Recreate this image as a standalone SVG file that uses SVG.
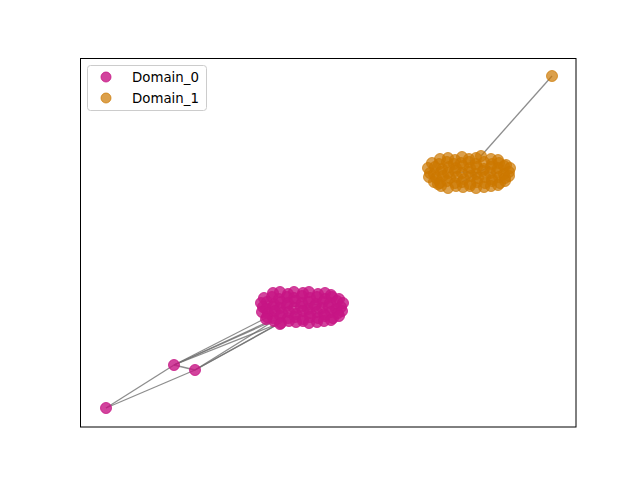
<svg xmlns="http://www.w3.org/2000/svg" xmlns:xlink="http://www.w3.org/1999/xlink" width="640" height="480" viewBox="0 0 640 480">
<style>
.d0{fill:#c71585;fill-opacity:0.8;stroke:#c71585;stroke-opacity:0.8;stroke-width:1}
.d1{fill:#cc7700;fill-opacity:0.7;stroke:#cc7700;stroke-opacity:0.7;stroke-width:1}
.e{stroke:#707070;stroke-opacity:0.8;stroke-width:1.3;fill:none}
.ei{stroke:#404040;stroke-opacity:0.6;stroke-width:1.2;fill:none}
.t{font-family:"DejaVu Sans",sans-serif;font-size:13.33px;fill:#000}
</style>
<rect x="0" y="0" width="640" height="480" fill="#fff"/>
<g id="connectors">
<line class="e" x1="174" y1="365" x2="266" y2="318"/>
<line class="e" x1="174" y1="365" x2="270" y2="321"/>
<line class="e" x1="174" y1="365" x2="275" y2="320"/>
<line class="e" x1="174" y1="365" x2="280" y2="323"/>
<line class="e" x1="195" y1="370" x2="272" y2="322"/>
<line class="e" x1="195" y1="370" x2="278" y2="324"/>
<line class="e" x1="195" y1="370" x2="284" y2="321"/>
<line class="e" x1="174" y1="365" x2="195" y2="370"/>
<line class="e" x1="106" y1="408" x2="174" y2="365"/>
<line class="e" x1="106" y1="408" x2="195" y2="370"/>
<line class="e" x1="552" y1="76" x2="481" y2="156"/>
<line class="ei" x1="290" y1="300" x2="310" y2="310"/>
<line class="ei" x1="300" y1="297" x2="318" y2="314"/>
<line class="ei" x1="280" y1="308" x2="330" y2="303"/>
<line class="ei" x1="295" y1="315" x2="322" y2="298"/>
<line class="ei" x1="455" y1="165" x2="480" y2="178"/>
<line class="ei" x1="462" y1="182" x2="490" y2="166"/>
<line class="ei" x1="448" y1="172" x2="497" y2="173"/>
<line class="ei" x1="470" y1="160" x2="476" y2="186"/>
</g>
<g id="domain0">
<g id="a1"><circle class="d0" cx="273" cy="293" r="5.5"/></g>
<g id="a2"><circle class="d0" cx="280" cy="292" r="5.5"/></g>
<g id="a3"><circle class="d0" cx="288" cy="294" r="5.5"/></g>
<g id="a4"><circle class="d0" cx="294" cy="292" r="5.5"/></g>
<g id="a5"><circle class="d0" cx="303" cy="293" r="5.5"/></g>
<g id="a6"><circle class="d0" cx="309" cy="292" r="5.5"/></g>
<g id="a7"><circle class="d0" cx="318" cy="294" r="5.5"/></g>
<g id="a8"><circle class="d0" cx="325" cy="293" r="5.5"/></g>
<g id="a9"><circle class="d0" cx="331" cy="295" r="5.5"/></g>
<g id="a10"><circle class="d0" cx="264" cy="298" r="5.5"/></g>
<g id="a11"><circle class="d0" cx="272" cy="297" r="5.5"/></g>
<g id="a12"><circle class="d0" cx="279" cy="299" r="5.5"/></g>
<g id="a13"><circle class="d0" cx="287" cy="297" r="5.5"/></g>
<g id="a14"><circle class="d0" cx="294" cy="298" r="5.5"/></g>
<g id="a15"><circle class="d0" cx="302" cy="296" r="5.5"/></g>
<g id="a16"><circle class="d0" cx="310" cy="298" r="5.5"/></g>
<g id="a17"><circle class="d0" cx="317" cy="297" r="5.5"/></g>
<g id="a18"><circle class="d0" cx="325" cy="299" r="5.5"/></g>
<g id="a19"><circle class="d0" cx="332" cy="297" r="5.5"/></g>
<g id="a20"><circle class="d0" cx="339" cy="299" r="5.5"/></g>
<g id="a21"><circle class="d0" cx="261" cy="303" r="5.5"/></g>
<g id="a22"><circle class="d0" cx="267" cy="302" r="5.5"/></g>
<g id="a23"><circle class="d0" cx="274" cy="304" r="5.5"/></g>
<g id="a24"><circle class="d0" cx="281" cy="302" r="5.5"/></g>
<g id="a25"><circle class="d0" cx="288" cy="303" r="5.5"/></g>
<g id="a26"><circle class="d0" cx="295" cy="301" r="5.5"/></g>
<g id="a27"><circle class="d0" cx="302" cy="303" r="5.5"/></g>
<g id="a28"><circle class="d0" cx="309" cy="302" r="5.5"/></g>
<g id="a29"><circle class="d0" cx="316" cy="304" r="5.5"/></g>
<g id="a30"><circle class="d0" cx="323" cy="302" r="5.5"/></g>
<g id="a31"><circle class="d0" cx="330" cy="303" r="5.5"/></g>
<g id="a32"><circle class="d0" cx="337" cy="301" r="5.5"/></g>
<g id="a33"><circle class="d0" cx="343" cy="303" r="5.5"/></g>
<g id="a34"><circle class="d0" cx="263" cy="307" r="5.5"/></g>
<g id="a35"><circle class="d0" cx="266" cy="309" r="5.5"/></g>
<g id="a36"><circle class="d0" cx="273" cy="307" r="5.5"/></g>
<g id="a37"><circle class="d0" cx="280" cy="308" r="5.5"/></g>
<g id="a38"><circle class="d0" cx="287" cy="306" r="5.5"/></g>
<g id="a39"><circle class="d0" cx="294" cy="308" r="5.5"/></g>
<g id="a40"><circle class="d0" cx="301" cy="307" r="5.5"/></g>
<g id="a41"><circle class="d0" cx="308" cy="309" r="5.5"/></g>
<g id="a42"><circle class="d0" cx="315" cy="306" r="5.5"/></g>
<g id="a43"><circle class="d0" cx="322" cy="308" r="5.5"/></g>
<g id="a44"><circle class="d0" cx="329" cy="307" r="5.5"/></g>
<g id="a45"><circle class="d0" cx="336" cy="309" r="5.5"/></g>
<g id="a46"><circle class="d0" cx="341" cy="307" r="5.5"/></g>
<g id="a47"><circle class="d0" cx="262" cy="312" r="5.5"/></g>
<g id="a48"><circle class="d0" cx="268" cy="313" r="5.5"/></g>
<g id="a49"><circle class="d0" cx="275" cy="311" r="5.5"/></g>
<g id="a50"><circle class="d0" cx="282" cy="313" r="5.5"/></g>
<g id="a51"><circle class="d0" cx="289" cy="312" r="5.5"/></g>
<g id="a52"><circle class="d0" cx="296" cy="314" r="5.5"/></g>
<g id="a53"><circle class="d0" cx="303" cy="311" r="5.5"/></g>
<g id="a54"><circle class="d0" cx="310" cy="313" r="5.5"/></g>
<g id="a55"><circle class="d0" cx="317" cy="312" r="5.5"/></g>
<g id="a56"><circle class="d0" cx="324" cy="314" r="5.5"/></g>
<g id="a57"><circle class="d0" cx="331" cy="312" r="5.5"/></g>
<g id="a58"><circle class="d0" cx="338" cy="313" r="5.5"/></g>
<g id="a59"><circle class="d0" cx="342" cy="311" r="5.5"/></g>
<g id="a60"><circle class="d0" cx="267" cy="317" r="5.5"/></g>
<g id="a61"><circle class="d0" cx="273" cy="318" r="5.5"/></g>
<g id="a62"><circle class="d0" cx="280" cy="316" r="5.5"/></g>
<g id="a63"><circle class="d0" cx="288" cy="318" r="5.5"/></g>
<g id="a64"><circle class="d0" cx="295" cy="317" r="5.5"/></g>
<g id="a65"><circle class="d0" cx="303" cy="319" r="5.5"/></g>
<g id="a66"><circle class="d0" cx="310" cy="317" r="5.5"/></g>
<g id="a67"><circle class="d0" cx="318" cy="318" r="5.5"/></g>
<g id="a68"><circle class="d0" cx="325" cy="316" r="5.5"/></g>
<g id="a69"><circle class="d0" cx="333" cy="318" r="5.5"/></g>
<g id="a70"><circle class="d0" cx="339" cy="316" r="5.5"/></g>
<g id="a71"><circle class="d0" cx="274" cy="321" r="5.5"/></g>
<g id="a72"><circle class="d0" cx="281" cy="323" r="5.5"/></g>
<g id="a73"><circle class="d0" cx="289" cy="321" r="5.5"/></g>
<g id="a74"><circle class="d0" cx="296" cy="322" r="5.5"/></g>
<g id="a75"><circle class="d0" cx="303" cy="321" r="5.5"/></g>
<g id="a76"><circle class="d0" cx="309" cy="323" r="5.5"/></g>
<g id="a77"><circle class="d0" cx="317" cy="322" r="5.5"/></g>
<g id="a78"><circle class="d0" cx="324" cy="321" r="5.5"/></g>
<g id="a79"><circle class="d0" cx="331" cy="320" r="5.5"/></g>
<g id="a80"><circle class="d0" cx="280" cy="324" r="5.5"/></g>
<g id="a81"><circle class="d0" cx="266" cy="319" r="5.5"/></g>
<g id="a82"><circle class="d0" cx="174" cy="365" r="5.5"/></g>
<g id="a83"><circle class="d0" cx="195" cy="370" r="5.5"/></g>
<g id="a84"><circle class="d0" cx="106" cy="408" r="5.5"/></g>
</g>
<g id="domain1">
<g id="b1"><circle class="d1" cx="440" cy="159" r="5.5"/></g>
<g id="b2"><circle class="d1" cx="448" cy="158" r="5.5"/></g>
<g id="b3"><circle class="d1" cx="455" cy="160" r="5.5"/></g>
<g id="b4"><circle class="d1" cx="462" cy="157" r="5.5"/></g>
<g id="b5"><circle class="d1" cx="469" cy="159" r="5.5"/></g>
<g id="b6"><circle class="d1" cx="476" cy="158" r="5.5"/></g>
<g id="b7"><circle class="d1" cx="481" cy="156" r="5.5"/></g>
<g id="b8"><circle class="d1" cx="491" cy="159" r="5.5"/></g>
<g id="b9"><circle class="d1" cx="498" cy="160" r="5.5"/></g>
<g id="b10"><circle class="d1" cx="432" cy="163" r="5.5"/></g>
<g id="b11"><circle class="d1" cx="439" cy="164" r="5.5"/></g>
<g id="b12"><circle class="d1" cx="447" cy="162" r="5.5"/></g>
<g id="b13"><circle class="d1" cx="454" cy="164" r="5.5"/></g>
<g id="b14"><circle class="d1" cx="461" cy="163" r="5.5"/></g>
<g id="b15"><circle class="d1" cx="469" cy="162" r="5.5"/></g>
<g id="b16"><circle class="d1" cx="476" cy="164" r="5.5"/></g>
<g id="b17"><circle class="d1" cx="484" cy="162" r="5.5"/></g>
<g id="b18"><circle class="d1" cx="492" cy="164" r="5.5"/></g>
<g id="b19"><circle class="d1" cx="499" cy="163" r="5.5"/></g>
<g id="b20"><circle class="d1" cx="506" cy="165" r="5.5"/></g>
<g id="b21"><circle class="d1" cx="428" cy="168" r="5.5"/></g>
<g id="b22"><circle class="d1" cx="435" cy="167" r="5.5"/></g>
<g id="b23"><circle class="d1" cx="442" cy="169" r="5.5"/></g>
<g id="b24"><circle class="d1" cx="449" cy="167" r="5.5"/></g>
<g id="b25"><circle class="d1" cx="456" cy="168" r="5.5"/></g>
<g id="b26"><circle class="d1" cx="463" cy="166" r="5.5"/></g>
<g id="b27"><circle class="d1" cx="470" cy="168" r="5.5"/></g>
<g id="b28"><circle class="d1" cx="477" cy="167" r="5.5"/></g>
<g id="b29"><circle class="d1" cx="484" cy="169" r="5.5"/></g>
<g id="b30"><circle class="d1" cx="491" cy="167" r="5.5"/></g>
<g id="b31"><circle class="d1" cx="498" cy="168" r="5.5"/></g>
<g id="b32"><circle class="d1" cx="504" cy="166" r="5.5"/></g>
<g id="b33"><circle class="d1" cx="510" cy="168" r="5.5"/></g>
<g id="b34"><circle class="d1" cx="430" cy="173" r="5.5"/></g>
<g id="b35"><circle class="d1" cx="434" cy="174" r="5.5"/></g>
<g id="b36"><circle class="d1" cx="441" cy="172" r="5.5"/></g>
<g id="b37"><circle class="d1" cx="448" cy="173" r="5.5"/></g>
<g id="b38"><circle class="d1" cx="455" cy="171" r="5.5"/></g>
<g id="b39"><circle class="d1" cx="462" cy="173" r="5.5"/></g>
<g id="b40"><circle class="d1" cx="469" cy="172" r="5.5"/></g>
<g id="b41"><circle class="d1" cx="476" cy="174" r="5.5"/></g>
<g id="b42"><circle class="d1" cx="483" cy="171" r="5.5"/></g>
<g id="b43"><circle class="d1" cx="490" cy="173" r="5.5"/></g>
<g id="b44"><circle class="d1" cx="497" cy="172" r="5.5"/></g>
<g id="b45"><circle class="d1" cx="504" cy="174" r="5.5"/></g>
<g id="b46"><circle class="d1" cx="509" cy="172" r="5.5"/></g>
<g id="b47"><circle class="d1" cx="429" cy="177" r="5.5"/></g>
<g id="b48"><circle class="d1" cx="436" cy="178" r="5.5"/></g>
<g id="b49"><circle class="d1" cx="443" cy="176" r="5.5"/></g>
<g id="b50"><circle class="d1" cx="450" cy="178" r="5.5"/></g>
<g id="b51"><circle class="d1" cx="457" cy="177" r="5.5"/></g>
<g id="b52"><circle class="d1" cx="464" cy="179" r="5.5"/></g>
<g id="b53"><circle class="d1" cx="471" cy="176" r="5.5"/></g>
<g id="b54"><circle class="d1" cx="478" cy="178" r="5.5"/></g>
<g id="b55"><circle class="d1" cx="485" cy="177" r="5.5"/></g>
<g id="b56"><circle class="d1" cx="492" cy="179" r="5.5"/></g>
<g id="b57"><circle class="d1" cx="499" cy="177" r="5.5"/></g>
<g id="b58"><circle class="d1" cx="505" cy="178" r="5.5"/></g>
<g id="b59"><circle class="d1" cx="509" cy="176" r="5.5"/></g>
<g id="b60"><circle class="d1" cx="434" cy="182" r="5.5"/></g>
<g id="b61"><circle class="d1" cx="440" cy="183" r="5.5"/></g>
<g id="b62"><circle class="d1" cx="447" cy="181" r="5.5"/></g>
<g id="b63"><circle class="d1" cx="455" cy="183" r="5.5"/></g>
<g id="b64"><circle class="d1" cx="462" cy="182" r="5.5"/></g>
<g id="b65"><circle class="d1" cx="470" cy="184" r="5.5"/></g>
<g id="b66"><circle class="d1" cx="477" cy="182" r="5.5"/></g>
<g id="b67"><circle class="d1" cx="485" cy="183" r="5.5"/></g>
<g id="b68"><circle class="d1" cx="492" cy="181" r="5.5"/></g>
<g id="b69"><circle class="d1" cx="500" cy="183" r="5.5"/></g>
<g id="b70"><circle class="d1" cx="505" cy="181" r="5.5"/></g>
<g id="b71"><circle class="d1" cx="441" cy="186" r="5.5"/></g>
<g id="b72"><circle class="d1" cx="448" cy="188" r="5.5"/></g>
<g id="b73"><circle class="d1" cx="456" cy="186" r="5.5"/></g>
<g id="b74"><circle class="d1" cx="463" cy="187" r="5.5"/></g>
<g id="b75"><circle class="d1" cx="470" cy="186" r="5.5"/></g>
<g id="b76"><circle class="d1" cx="476" cy="188" r="5.5"/></g>
<g id="b77"><circle class="d1" cx="484" cy="187" r="5.5"/></g>
<g id="b78"><circle class="d1" cx="491" cy="186" r="5.5"/></g>
<g id="b79"><circle class="d1" cx="498" cy="185" r="5.5"/></g>
<g id="b80"><circle class="d1" cx="438" cy="184" r="5.5"/></g>
<g id="b81"><circle class="d1" cx="552" cy="76" r="5.5"/></g>
</g>
<rect x="80.5" y="58.5" width="495.5" height="368.5" fill="none" stroke="#000" stroke-width="1"/>
<g id="legend">
<rect x="87.5" y="65.5" width="119" height="45" rx="3" fill="#fff" fill-opacity="0.8" stroke="#cccccc" stroke-width="1"/>
<circle class="d0" cx="106" cy="77" r="5"/>
<circle class="d1" cx="106" cy="98" r="5"/>
<text class="t" x="132" y="82">Domain_0</text>
<text class="t" x="132" y="103">Domain_1</text>
</g>
</svg>
